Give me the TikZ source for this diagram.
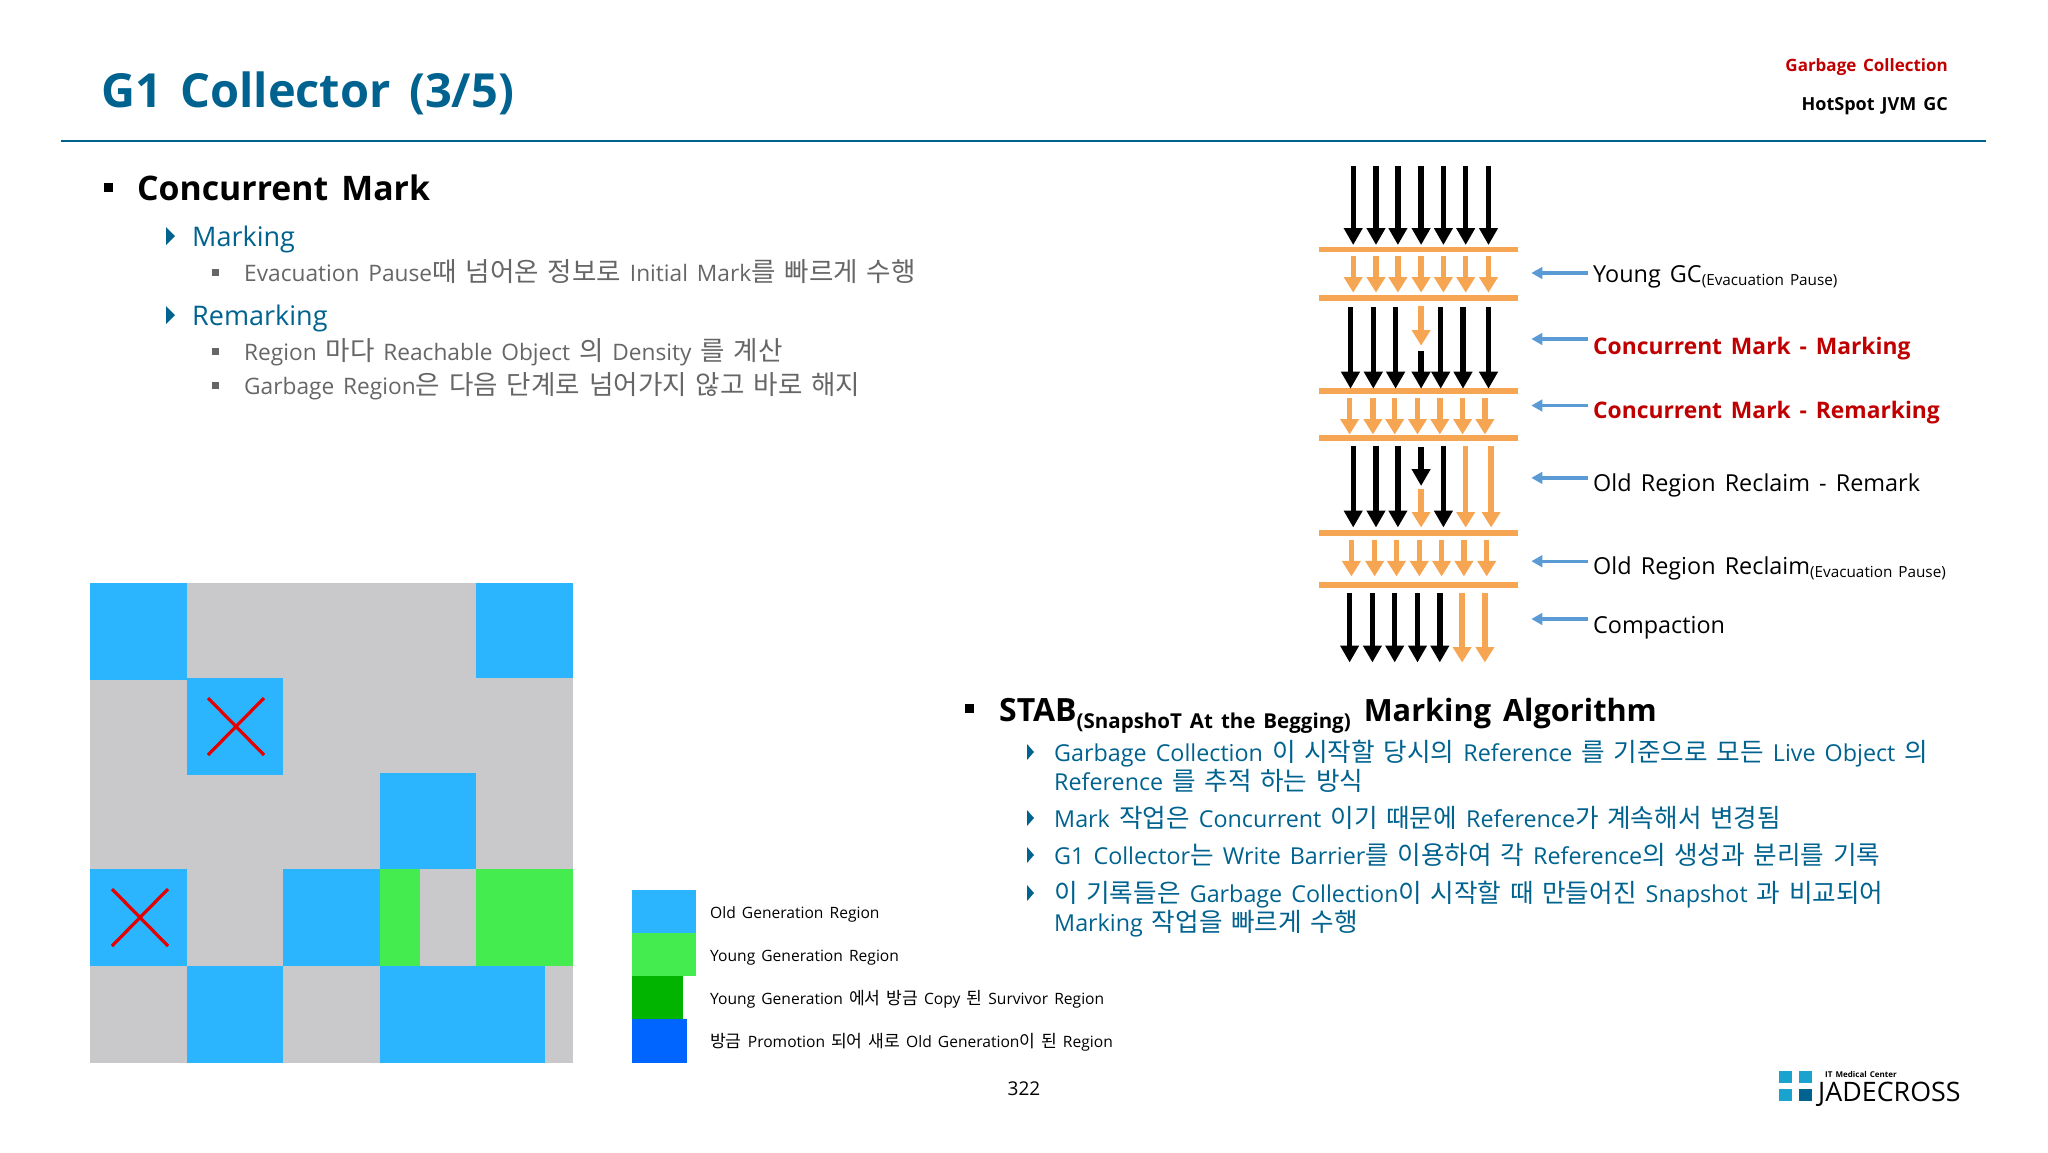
\documentclass[tikz,border=0pt]{standalone}
\usepackage{fontspec}
\setmainfont[WordSpace=1.5]{Open Sans}
\newfontfamily\cjk[WordSpace=1.5,Scale=1.1]{Noto Sans CJK KR}
\newfontfamily\cjkitem[WordSpace=1.5,Scale=1.17]{Noto Sans CJK KR}
\newcommand{\K}[1]{{\cjk #1}}
\newcommand{\KI}[1]{{\cjkitem #1}}
\usetikzlibrary{arrows.meta}
\definecolor{jadeblue}{HTML}{00628F}
\definecolor{oldblue}{HTML}{2BB5FF}
\definecolor{younggreen}{HTML}{45EC50}
\definecolor{survgreen}{HTML}{00B400}
\definecolor{promoblue}{HTML}{0064FF}
\definecolor{cellgrey}{HTML}{C9C9CB}
\definecolor{barorange}{HTML}{F6A553}
\definecolor{linkblue}{HTML}{5B9BD5}
\definecolor{markred}{HTML}{C00000}
\definecolor{logocyan}{HTML}{1BA3CF}
\tikzset{
  txt/.style={anchor=base west,inner sep=0pt},
  head1/.style={txt,font=\fontsize{33.8}{33.8}\selectfont\bfseries,text=black},
  head2/.style={txt,font=\fontsize{27}{27}\selectfont,text=jadeblue},
  item/.style={txt,font=\fontsize{22.7}{22.7}\selectfont,text=black!60},
  stabitem/.style={txt,font=\fontsize{23.3}{23.3}\selectfont,text=jadeblue},
  legendtxt/.style={txt,font=\fontsize{15.6}{15.6}\selectfont,text=black},
  gclabel/.style={txt,font=\fontsize{23.4}{23.4}\selectfont,text=black},
  marklabel/.style={txt,font=\fontsize{22.8}{22.8}\selectfont\bfseries,text=markred},
  blackarrow/.style={draw=black,line width=5.4pt,-{Triangle[length=17pt,width=18pt]}},
  orangearrow/.style={draw=barorange,line width=5.4pt,-{Triangle[length=15.5pt,width=18pt]}},
  bluearrow/.style={draw=linkblue,line width=3.4pt,-{Triangle[length=11pt,width=11.5pt]}},
  bar/.style={draw=barorange,line width=5.9pt},
  crossline/.style={draw=red!90!black,line width=3.2pt}
}
\begin{document}
\begin{tikzpicture}[x=1pt,y=-1pt]
  \useasboundingbox (0,0) rectangle (2048,1152);

  % header
  \node[txt,font=\fontsize{47}{47}\selectfont\bfseries,text=jadeblue] (title) at (101,107) {G1 Collector (3/5)};
  \node[anchor=base east,inner sep=0pt,font=\fontsize{17}{17}\selectfont\bfseries,text=markred] (tagtop) at (1948,71) {Garbage Collection};
  \node[anchor=base east,inner sep=0pt,font=\fontsize{18}{18}\selectfont\bfseries] (tagsub) at (1948,110) {HotSpot JVM GC};
  \draw[jadeblue,line width=1.5pt] (61,141) -- (1986,141);

  % left text
  \fill (104,183) rectangle (113,192);
  \node[head1] (cmark) at (137,200) {Concurrent Mark};
  \foreach \py in {236,315} \fill[jadeblue] (166,\py-9) -- (175,\py) -- (166,\py+9) -- cycle;
  \node[head2] (marking) at (192,246) {Marking};
  \node[head2] (remarking) at (192,325) {Remarking};
  \foreach \py in {272,351,385} \fill[black!60] (212,\py-3.5) rectangle (219,\py+3.5);
  \node[item] (evac) at (244,281) {Evacuation Pause\KI{때 넘어온 정보로} Initial Mark\KI{를 빠르게 수행}};
  \node[item] (density) at (244,360) {Region \KI{마다} Reachable Object \KI{의} Density \KI{를 계산}};
  \node[item] (garbage) at (244,394) {Garbage Region\KI{은 다음 단계로 넘어가지 않고 바로 해지}};

  % region map
  \fill[cellgrey] (90,583) rectangle (573,1063);
  \foreach \xa/\ya/\xb/\yb in {90/583/186.5/680,476/583/573/678,186.5/678/283/775,379.5/773/476/869,90/869/186.5/966,283/869/379.5/966,186.5/966/283/1063,379.5/966/544.5/1063}
    \fill[oldblue] (\xa,\ya) rectangle (\xb,\yb);
  \fill[younggreen] (379.5,869) rectangle (420,966);
  \fill[younggreen] (476,869) rectangle (573,966);
  \foreach \xa/\ya in {208/698,112/889} {
    \draw[crossline] (\xa,\ya) -- (\xa+56,\ya+57);
    \draw[crossline] (\xa+56,\ya) -- (\xa,\ya+57);
  }

  % legend
  \fill[oldblue] (632,890) rectangle (696,933);
  \fill[younggreen] (632,933) rectangle (696,976);
  \fill[survgreen] (632,976) rectangle (683,1019);
  \fill[promoblue] (632,1019) rectangle (687,1063);
  \node[legendtxt] (legold) at (710,918) {Old Generation Region};
  \node[legendtxt] (legyoung) at (710,961) {Young Generation Region};
  \node[legendtxt] (legsurv) at (710,1004) {Young Generation \K{에서 방금} Copy \K{된} Survivor Region};
  \node[legendtxt] (legpromo) at (710,1047) {\K{방금} Promotion \K{되어 새로} Old Generation\K{이 된} Region};

  % gc timeline
  \foreach \py in {249.5,298,391,437.6,532.6,585} \draw[bar] (1319,\py) -- (1518,\py);
  \foreach \px in {1353.2,1376,1397.9,1421.1,1443.4,1465.7,1488.5} {
    \draw[blackarrow] (\px,165.8) -- (\px,245);
    \draw[orangearrow] (\px,256.4) -- (\px,292.6);
  }
  \foreach \px in {1350.5,1373.3,1395.6,1440.7,1463,1488.5} \draw[blackarrow] (\px,307) -- (\px,388.7);
  \draw[orangearrow] (1421.1,306.3) -- (1421.1,345.6);
  \draw[blackarrow] (1421.1,350.8) -- (1421.1,388.7);
  \foreach \px in {1349.6,1372.9,1394.7,1417.5,1439.8,1462.6,1484.9} \draw[orangearrow] (\px,398.3) -- (\px,434.5);
  \foreach \px in {1353.2,1376,1397.9,1443.4} \draw[blackarrow] (\px,445.5) -- (\px,527.5);
  \draw[blackarrow] (1421.1,446.5) -- (1421.1,486);
  \foreach \px/\py in {1421.1/488.9,1465.7/445.5,1491.1/445.5} \draw[orangearrow] (\px,\py) -- (\px,527.5);
  \foreach \px in {1351.4,1374.6,1396.5,1419.3,1441.6,1463.9,1486.7} \draw[orangearrow] (\px,539.5) -- (\px,576.4);
  \foreach \px in {1349.6,1372.4,1394.7,1417.5,1439.8} \draw[blackarrow] (\px,592.9) -- (\px,662.5);
  \foreach \px in {1462.1,1484.9} \draw[orangearrow] (\px,592.9) -- (\px,662.5);

  % timeline labels
  \node[gclabel] (young) at (1593,282) {Young GC\textsubscript{\fontsize{15.3}{15.3}\selectfont(Evacuation Pause)}};
  \node[marklabel] (cmm) at (1593,354) {Concurrent Mark - Marking};
  \node[marklabel] (cmr) at (1593,418) {Concurrent Mark - Remarking};
  \node[gclabel] (orr) at (1593,491) {Old Region Reclaim - Remark};
  \node[gclabel] (ore) at (1593,574) {Old Region Reclaim\textsubscript{\fontsize{15.3}{15.3}\selectfont(Evacuation Pause)}};
  \node[gclabel] (compact) at (1593,633) {Compaction};
  \foreach \py [count=\pn] in {273,339,405.5,477.9,561.2,619} {
    \coordinate (blue\pn) at (1588,\py);
    \coordinate (tip\pn) at (1531.3,\py);
    \draw[bluearrow] (blue\pn) -- (tip\pn);
  }

  % stab text
  \fill (965,704) rectangle (974,713);
  \node[txt,font=\fontsize{32}{32}\selectfont\bfseries] (stab) at (999,721) {STAB\textsubscript{\fontsize{20.5}{20.5}\selectfont(SnapshoT At the Begging)} {\fontsize{30.7}{30.7}\selectfont Marking Algorithm}};
  \foreach \py in {752,818,855,893} \fill[jadeblue] (1027,\py-8) -- (1034,\py) -- (1027,\py+8) -- cycle;
  \node[stabitem] (s1) at (1054,761) {Garbage Collection \K{이 시작할 당시의} Reference \K{를 기준으로 모든} Live Object \K{의}};
  \node[stabitem] (s1b) at (1054,790) {Reference \K{를 추적 하는 방식}};
  \node[stabitem] (s2) at (1054,827) {Mark \K{작업은} Concurrent \K{이기 때문에} Reference\K{가 계속해서 변경됨}};
  \node[stabitem] (s3) at (1054,864) {G1 Collector\K{는} Write Barrier\K{를 이용하여 각} Reference\K{의 생성과 분리를 기록}};
  \node[stabitem] (s4) at (1054,902) {\K{이 기록들은} Garbage Collection\K{이 시작할 때 만들어진} Snapshot \K{과 비교되어}};
  \node[stabitem] (s4b) at (1054,931) {Marking \K{작업을 빠르게 수행}};

  % footer
  \node[anchor=base,inner sep=0pt,font=\fontsize{19}{19}\selectfont] (page) at (1024,1095) {322};
  \foreach \xa/\ya in {1779/1071,1799/1071,1779/1089} \fill[logocyan] (\xa,\ya) rectangle (\xa+13,\ya+12);
  \fill[jadeblue] (1799,1089) rectangle (1812,1101);
  \node[txt,font=\fontsize{8}{8}\selectfont\bfseries] (logotop) at (1825,1077) {IT Medical Center};
  \node[txt,font=\fontsize{26.8}{26.8}\selectfont] (logo) at (1818,1101) {JADECROSS};
\end{tikzpicture}
\end{document}
